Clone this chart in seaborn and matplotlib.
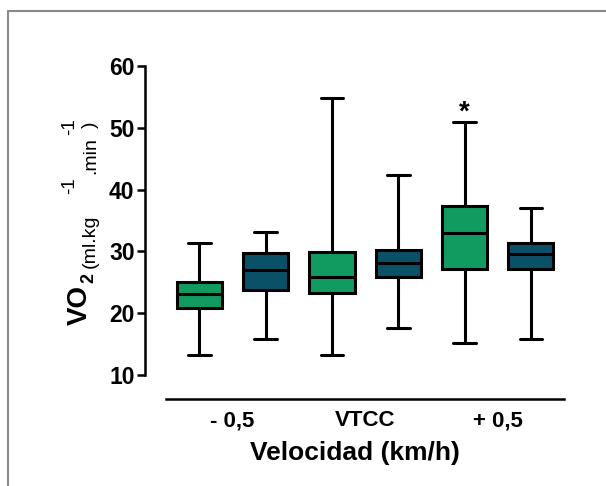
import matplotlib
matplotlib.use("Agg")
import matplotlib.pyplot as plt
import seaborn as sns
import pandas as pd
from matplotlib.lines import Line2D

# Data: min, Q1, median, Q3, max for each box
velocidades = ["- 0,5", "VTCC", "+ 0,5"]
grupos = ["Grupo 1", "Grupo 2"]
grupo1_stats = [
    [13.3, 20.9, 23.1, 25.0, 31.4],
    [13.2, 23.2, 25.9, 29.9, 54.8],
    [15.2, 27.2, 32.9, 37.3, 51.0],
]
grupo2_stats = [
    [15.8, 23.7, 27.0, 29.7, 33.1],
    [17.6, 25.8, 28.2, 30.3, 42.4],
    [15.8, 27.1, 29.5, 31.3, 37.1],
]
colores = ["#129b60", "#0a5167"]

rows = []
for vel, s1, s2 in zip(velocidades, grupo1_stats, grupo2_stats):
    for v in s1:
        rows.append({"velocidad": vel, "grupo": grupos[0], "vo2": v})
    for v in s2:
        rows.append({"velocidad": vel, "grupo": grupos[1], "vo2": v})
df = pd.DataFrame(rows)

sns.set_style("ticks")
plt.rcParams["font.family"] = ["Liberation Sans", "DejaVu Sans"]
plt.rcParams["font.weight"] = "bold"
plt.rcParams["text.color"] = "black"
plt.rcParams["axes.labelcolor"] = "black"
plt.rcParams["xtick.color"] = "black"
plt.rcParams["ytick.color"] = "black"
plt.rcParams["axes.edgecolor"] = "black"

W, H = 606, 486
fig = plt.figure(figsize=(W / 100, H / 100), dpi=100)
ax = fig.add_axes([145 / W, (H - 375) / H, (564 - 145) / W, (375 - 66) / H])

sns.boxplot(data=df, x="velocidad", y="vo2", hue="grupo", order=velocidades,
            palette=colores, saturation=1, whis=(0, 100), width=1.0, gap=0.32,
            linecolor="black", linewidth=2.2, showfliers=False,
            legend=False, ax=ax)

ax.set_xlim(-0.66, 2.5)
ax.set_ylim(10, 60)
ax.set_yticks([10, 20, 30, 40, 50, 60])
ax.tick_params(axis="y", labelsize=16.5, width=1.8, length=6, pad=1.5)
ax.tick_params(axis="x", labelsize=16, length=0, pad=8)
for lab in ax.get_xticklabels() + ax.get_yticklabels():
    lab.set_fontweight("bold")

sns.despine(ax=ax)
ax.spines["left"].set_linewidth(1.8)
ax.spines["bottom"].set_linewidth(1.8)
ax.spines["bottom"].set_position(("outward", 17.3))
ax.spines["bottom"].set_bounds(-0.5, 2.5)
ax.set_xlabel("Velocidad (km/h)", fontsize=19, fontweight="bold", labelpad=7)
ax.set_ylabel("")

# significance mark over the +0,5 first group
ax.text(2 - 0.25, grupo1_stats[2][4] - 0.7, "*", ha="center", va="bottom",
        fontsize=20, fontweight="bold")

# y label built from pieces (VO2 with units and superscripts)
def ylab(x, y, s, size, weight="bold"):
    fig.text(x / W, (H - y) / H, s, rotation=90, rotation_mode="anchor",
             ha="left", va="baseline", fontsize=size, fontweight=weight)

ylab(87, 325, "VO", 20)
ylab(93, 283, "2", 13)
ylab(95, 268, "(ml.kg", 14, "normal")
ylab(74, 194, "-1", 13.5, "normal")
ylab(95, 174, ".min", 14, "normal")
ylab(74, 135, "-1", 13.5, "normal")
ylab(95, 128, ")", 14, "normal")

# frame lines of the original figure
fig.add_artist(Line2D([8 / W, 1], [(H - 11) / H] * 2, color="#8a8a8a", lw=1.5))
fig.add_artist(Line2D([8 / W] * 2, [0, (H - 11) / H], color="#8a8a8a", lw=1.5))

fig.savefig("out.png", dpi=100)
